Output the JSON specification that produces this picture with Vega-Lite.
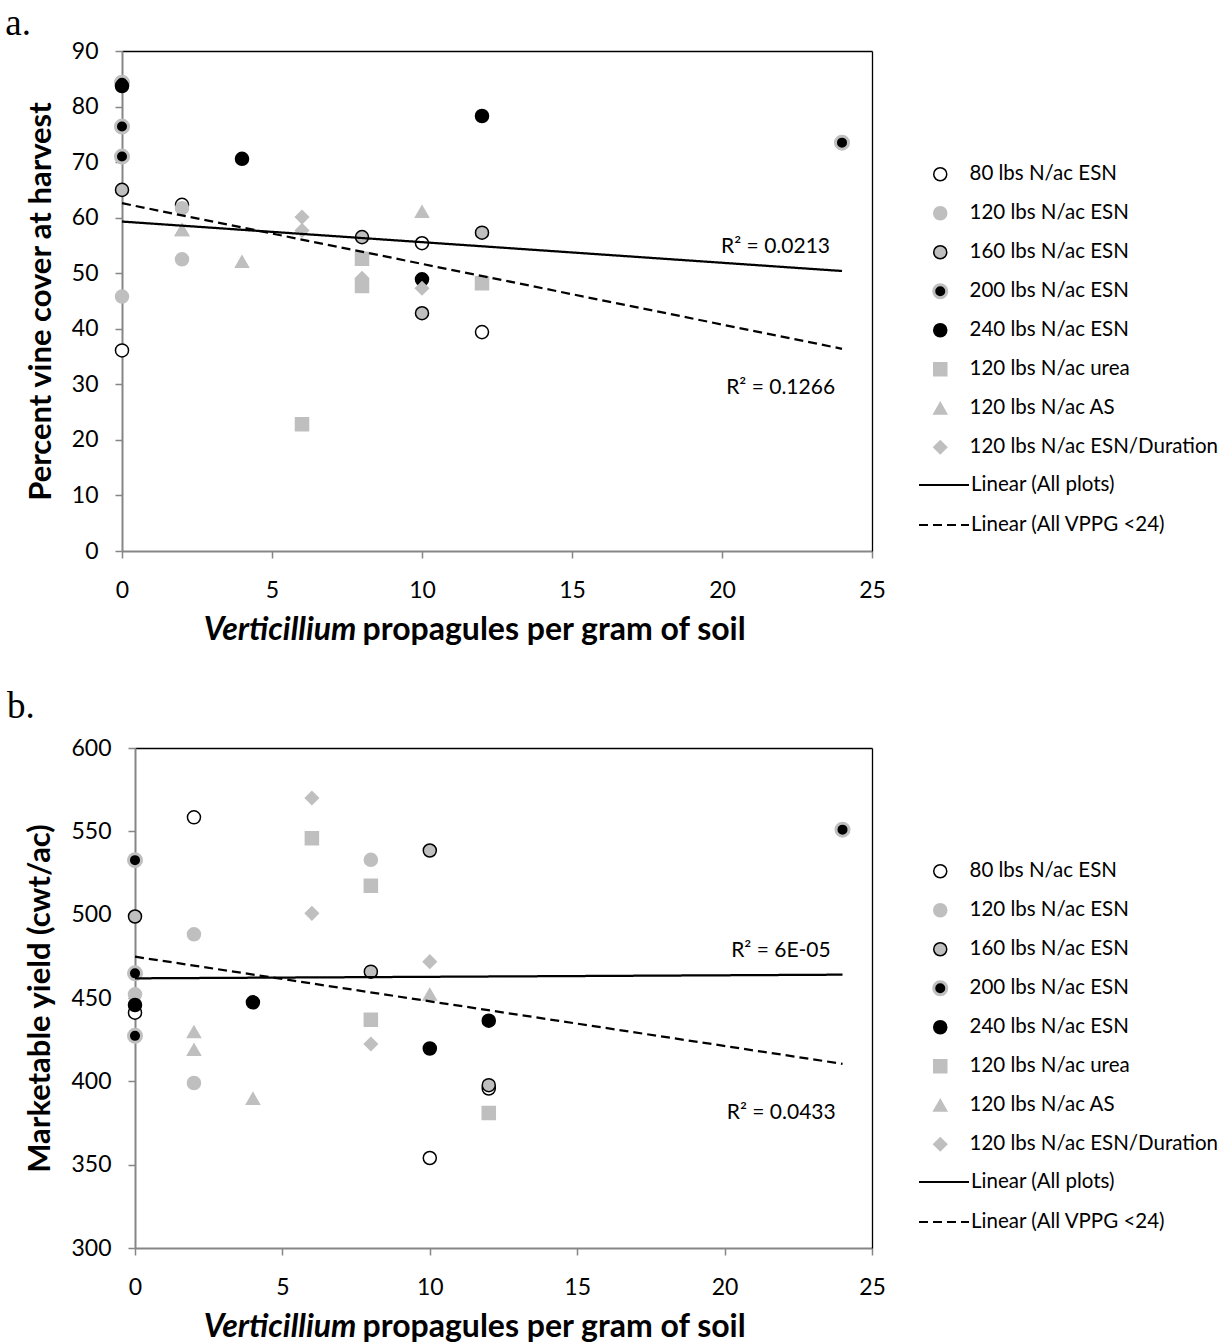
{
  "$schema": "https://vega.github.io/schema/vega-lite/v6.json",
  "padding": 5,
  "config": {
    "font": "Lato",
    "view": {"stroke": null},
    "axis": {
      "grid": false,
      "domainColor": "#868686",
      "domainWidth": 2,
      "tickColor": "#868686",
      "tickWidth": 1.5,
      "tickSize": 7,
      "labelFont": "Lato",
      "labelFontSize": 23,
      "labelColor": "black",
      "labelFlush": false,
      "titleFont": "Lato",
      "titleFontSize": 31,
      "titleFontWeight": "bold",
      "titleColor": "black"
    },
    "legend": {"labelFont": "Lato", "labelFontSize": 20.5, "labelColor": "black", "labelLimit": 500, "symbolOpacity": 1, "title": null, "orient": "none"},
    "title": {"font": "Liberation Serif", "fontSize": 37, "fontWeight": "normal", "anchor": "start", "color": "black"}
  },
  "datasets": {
    "ptsA": [
      {"series": "80 lbs N/ac ESN", "x": 0, "y": 36.1},
      {"series": "80 lbs N/ac ESN", "x": 2, "y": 62.3},
      {"series": "80 lbs N/ac ESN", "x": 10, "y": 55.4},
      {"series": "80 lbs N/ac ESN", "x": 12, "y": 39.4},
      {"series": "120 lbs N/ac ESN", "x": 0, "y": 45.8},
      {"series": "120 lbs N/ac ESN", "x": 2, "y": 61.7},
      {"series": "120 lbs N/ac ESN", "x": 2, "y": 52.5},
      {"series": "160 lbs N/ac ESN", "x": 0, "y": 65.0},
      {"series": "160 lbs N/ac ESN", "x": 8, "y": 56.5},
      {"series": "160 lbs N/ac ESN", "x": 10, "y": 42.8},
      {"series": "160 lbs N/ac ESN", "x": 12, "y": 57.3},
      {"series": "200 lbs N/ac ESN", "x": 0, "y": 84.3},
      {"series": "200 lbs N/ac ESN", "x": 0, "y": 76.4},
      {"series": "200 lbs N/ac ESN", "x": 0, "y": 71.0},
      {"series": "200 lbs N/ac ESN", "x": 24, "y": 73.5},
      {"series": "240 lbs N/ac ESN", "x": 0, "y": 83.7},
      {"series": "240 lbs N/ac ESN", "x": 4, "y": 70.6},
      {"series": "240 lbs N/ac ESN", "x": 10, "y": 48.9},
      {"series": "240 lbs N/ac ESN", "x": 12, "y": 78.3},
      {"series": "120 lbs N/ac urea", "x": 6, "y": 22.8},
      {"series": "120 lbs N/ac urea", "x": 8, "y": 52.6},
      {"series": "120 lbs N/ac urea", "x": 8, "y": 47.7},
      {"series": "120 lbs N/ac urea", "x": 12, "y": 48.2},
      {"series": "120 lbs N/ac AS", "x": 2, "y": 57.8},
      {"series": "120 lbs N/ac AS", "x": 2, "y": 57.8},
      {"series": "120 lbs N/ac AS", "x": 4, "y": 52.1},
      {"series": "120 lbs N/ac AS", "x": 10, "y": 61.1},
      {"series": "120 lbs N/ac ESN/Duration", "x": 6, "y": 60.1},
      {"series": "120 lbs N/ac ESN/Duration", "x": 6, "y": 57.7},
      {"series": "120 lbs N/ac ESN/Duration", "x": 8, "y": 49.1},
      {"series": "120 lbs N/ac ESN/Duration", "x": 10, "y": 47.3}
    ],
    "ptsB": [
      {"series": "80 lbs N/ac ESN", "x": 0, "y": 441.2},
      {"series": "80 lbs N/ac ESN", "x": 2, "y": 558.4},
      {"series": "80 lbs N/ac ESN", "x": 10, "y": 354.0},
      {"series": "80 lbs N/ac ESN", "x": 12, "y": 395.7},
      {"series": "120 lbs N/ac ESN", "x": 0, "y": 452.2},
      {"series": "120 lbs N/ac ESN", "x": 2, "y": 488.2},
      {"series": "120 lbs N/ac ESN", "x": 2, "y": 399.0},
      {"series": "120 lbs N/ac ESN", "x": 8, "y": 532.9},
      {"series": "160 lbs N/ac ESN", "x": 0, "y": 498.9},
      {"series": "160 lbs N/ac ESN", "x": 8, "y": 465.8},
      {"series": "160 lbs N/ac ESN", "x": 10, "y": 538.5},
      {"series": "160 lbs N/ac ESN", "x": 12, "y": 397.7},
      {"series": "200 lbs N/ac ESN", "x": 0, "y": 532.7},
      {"series": "200 lbs N/ac ESN", "x": 0, "y": 464.8},
      {"series": "200 lbs N/ac ESN", "x": 0, "y": 427.3},
      {"series": "200 lbs N/ac ESN", "x": 24, "y": 551.0},
      {"series": "240 lbs N/ac ESN", "x": 0, "y": 445.8},
      {"series": "240 lbs N/ac ESN", "x": 4, "y": 447.4},
      {"series": "240 lbs N/ac ESN", "x": 10, "y": 419.7},
      {"series": "240 lbs N/ac ESN", "x": 12, "y": 436.4},
      {"series": "120 lbs N/ac urea", "x": 6, "y": 545.9},
      {"series": "120 lbs N/ac urea", "x": 8, "y": 517.3},
      {"series": "120 lbs N/ac urea", "x": 8, "y": 437.0},
      {"series": "120 lbs N/ac urea", "x": 12, "y": 381.0},
      {"series": "120 lbs N/ac AS", "x": 2, "y": 429.7},
      {"series": "120 lbs N/ac AS", "x": 2, "y": 419.0},
      {"series": "120 lbs N/ac AS", "x": 4, "y": 389.7},
      {"series": "120 lbs N/ac AS", "x": 10, "y": 452.2},
      {"series": "120 lbs N/ac ESN/Duration", "x": 6, "y": 570.0},
      {"series": "120 lbs N/ac ESN/Duration", "x": 6, "y": 500.8},
      {"series": "120 lbs N/ac ESN/Duration", "x": 8, "y": 422.4},
      {"series": "120 lbs N/ac ESN/Duration", "x": 10, "y": 471.8}
    ],
    "linesA": [
      {"line": "Linear (All plots)", "x": 0, "y": 59.3},
      {"line": "Linear (All plots)", "x": 24, "y": 50.4},
      {"line": "Linear (All VPPG <24)", "x": 0, "y": 62.6},
      {"line": "Linear (All VPPG <24)", "x": 24, "y": 36.4}
    ],
    "linesB": [
      {"line": "Linear (All plots)", "x": 0, "y": 461.8},
      {"line": "Linear (All plots)", "x": 24, "y": 464.0},
      {"line": "Linear (All VPPG <24)", "x": 0, "y": 474.8},
      {"line": "Linear (All VPPG <24)", "x": 24, "y": 410.5}
    ],
    "labA": [
      {"x": 23.6, "y": 54.7, "text": "R² = 0.0213"},
      {"x": 23.77, "y": 29.3, "text": "R² = 0.1266"}
    ],
    "labB": [
      {"x": 23.6, "y": 478, "text": "R² = 6E-05"},
      {"x": 23.77, "y": 381, "text": "R² = 0.0433"}
    ]
  },
  "columns": 1,
  "bounds": "full",
  "spacing": 43,
  "resolve": {
    "scale": {"shape": "independent", "fill": "independent", "stroke": "independent", "strokeDash": "independent"},
    "legend": {"shape": "independent", "fill": "independent", "stroke": "independent", "strokeDash": "independent"}
  },
  "concat": [
    {
      "title": {"text": "a.", "dx": -20, "offset": -3},
      "width": 750,
      "height": 500,
      "resolve": {"axis": {"x": "independent", "y": "independent"}},
      "layer": [
        {
          "data": {"name": "ptsA"},
          "mark": {"type": "point", "opacity": 1, "size": 170},
          "encoding": {
            "x": {"field": "x", "type": "quantitative", "scale": {"domain": [0, 25], "nice": false},
              "axis": {"orient": "bottom", "values": [0, 5, 10, 15, 20, 25], "title": "propagules per gram of soil", "titleFontSize": 32, "titleX": 240, "titleAlign": "left", "titleAnchor": null, "titleY": 88, "titleBaseline": "alphabetic", "labelPadding": 21}},
            "y": {"field": "y", "type": "quantitative", "scale": {"domain": [0, 90], "nice": false},
              "axis": {"orient": "left", "values": [0, 10, 20, 30, 40, 50, 60, 70, 80, 90], "title": "Percent vine cover at harvest", "labelPadding": 17, "titlePadding": 14}},
            "shape": {"field": "series", "type": "nominal",
              "scale": {"domain": ["80 lbs N/ac ESN", "120 lbs N/ac ESN", "160 lbs N/ac ESN", "200 lbs N/ac ESN", "240 lbs N/ac ESN", "120 lbs N/ac urea", "120 lbs N/ac AS", "120 lbs N/ac ESN/Duration"],
                "range": ["circle", "circle", "circle", "circle", "circle", "square", "triangle-up", "diamond"]},
              "legend": {"orient": "none", "legendX": 808, "legendY": 113, "title": null, "symbolSize": 170, "rowPadding": 13, "gridAlign": "all", "labelOffset": 19, "symbolStrokeWidth": 1.5,
                "encode": {"symbols": {"update": {"strokeWidth": {"signal": "datum.value === '200 lbs N/ac ESN' ? 3 : 1.5"}}}}}},
            "fill": {"field": "series", "type": "nominal",
              "scale": {"domain": ["80 lbs N/ac ESN", "120 lbs N/ac ESN", "160 lbs N/ac ESN", "200 lbs N/ac ESN", "240 lbs N/ac ESN", "120 lbs N/ac urea", "120 lbs N/ac AS", "120 lbs N/ac ESN/Duration"],
                "range": ["white", "#bfbfbf", "#bfbfbf", "black", "black", "#bfbfbf", "#bfbfbf", "#bfbfbf"]},
              "legend": {"orient": "none", "legendX": 808, "legendY": 113, "title": null, "symbolSize": 170, "rowPadding": 13, "gridAlign": "all", "labelOffset": 19, "symbolStrokeWidth": 1.5,
                "encode": {"symbols": {"update": {"strokeWidth": {"signal": "datum.value === '200 lbs N/ac ESN' ? 3 : 1.5"}}}}}},
            "stroke": {"field": "series", "type": "nominal",
              "scale": {"domain": ["80 lbs N/ac ESN", "120 lbs N/ac ESN", "160 lbs N/ac ESN", "200 lbs N/ac ESN", "240 lbs N/ac ESN", "120 lbs N/ac urea", "120 lbs N/ac AS", "120 lbs N/ac ESN/Duration"],
                "range": ["black", "#bfbfbf", "black", "#bfbfbf", "black", "#bfbfbf", "#bfbfbf", "#bfbfbf"]},
              "legend": {"orient": "none", "legendX": 808, "legendY": 113, "title": null, "symbolSize": 170, "rowPadding": 13, "gridAlign": "all", "labelOffset": 19, "symbolStrokeWidth": 1.5,
                "encode": {"symbols": {"update": {"strokeWidth": {"signal": "datum.value === '200 lbs N/ac ESN' ? 3 : 1.5"}}}}}},
            "strokeWidth": {"condition": {"test": "datum.series === '200 lbs N/ac ESN'", "value": 3}, "value": 1.5}
          }
        },
        {
          "data": {"name": "linesA"},
          "mark": {"type": "line", "color": "black", "strokeWidth": 2.25},
          "encoding": {
            "x": {"field": "x", "type": "quantitative",
              "axis": {"orient": "bottom", "title": "Verticillium", "titleFontStyle": "italic", "titleFontSize": 32, "labels": false, "ticks": false, "domain": false, "titleX": 234, "titleAlign": "right", "titleAnchor": null, "titleY": 88, "titleBaseline": "alphabetic"}},
            "y": {"field": "y", "type": "quantitative",
              "axis": {"orient": "right", "title": null, "labels": false, "ticks": false, "domainColor": "black", "domainWidth": 1.3}},
            "strokeDash": {"field": "line", "type": "nominal",
              "scale": {"domain": ["Linear (All plots)", "Linear (All VPPG <24)"], "range": [[1, 0], [9, 5]]},
              "legend": {"orient": "none", "legendX": 796, "legendY": 408, "title": null, "symbolType": "stroke", "symbolSize": 2500, "symbolStrokeWidth": 2, "symbolStrokeColor": "black", "rowPadding": 3, "labelOffset": 1}}
          }
        },
        {
          "data": {"name": "labA"},
          "mark": {"type": "text", "align": "right", "baseline": "middle", "fontSize": 21, "font": "Lato", "color": "black"},
          "encoding": {
            "x": {"field": "x", "type": "quantitative",
              "axis": {"orient": "top", "title": null, "labels": false, "ticks": false, "domainColor": "black", "domainWidth": 1.3}},
            "y": {"field": "y", "type": "quantitative", "axis": null},
            "text": {"field": "text", "type": "nominal"}
          }
        }
      ]
    },
    {
      "title": {"text": "b.", "dx": -18, "offset": 11},
      "width": 750,
      "height": 500,
      "resolve": {"axis": {"x": "independent", "y": "independent"}},
      "layer": [
        {
          "data": {"name": "ptsB"},
          "mark": {"type": "point", "opacity": 1, "size": 170},
          "encoding": {
            "x": {"field": "x", "type": "quantitative", "scale": {"domain": [0, 25], "nice": false, "range": [13, 750]},
              "axis": {"orient": "bottom", "values": [0, 5, 10, 15, 20, 25], "title": "propagules per gram of soil", "titleFontSize": 32, "titleX": 240, "titleAlign": "left", "titleAnchor": null, "titleY": 88, "titleBaseline": "alphabetic", "labelPadding": 21}},
            "y": {"field": "y", "type": "quantitative", "scale": {"domain": [300, 600], "nice": false},
              "axis": {"orient": "left", "offset": -13, "values": [300, 350, 400, 450, 500, 550, 600], "title": "Marketable yield (cwt/ac)", "labelPadding": 17, "titlePadding": 14}},
            "shape": {"field": "series", "type": "nominal",
              "scale": {"domain": ["80 lbs N/ac ESN", "120 lbs N/ac ESN", "160 lbs N/ac ESN", "200 lbs N/ac ESN", "240 lbs N/ac ESN", "120 lbs N/ac urea", "120 lbs N/ac AS", "120 lbs N/ac ESN/Duration"],
                "range": ["circle", "circle", "circle", "circle", "circle", "square", "triangle-up", "diamond"]},
              "legend": {"orient": "none", "legendX": 808, "legendY": 113, "title": null, "symbolSize": 170, "rowPadding": 13, "gridAlign": "all", "labelOffset": 19, "symbolStrokeWidth": 1.5,
                "encode": {"symbols": {"update": {"strokeWidth": {"signal": "datum.value === '200 lbs N/ac ESN' ? 3 : 1.5"}}}}}},
            "fill": {"field": "series", "type": "nominal",
              "scale": {"domain": ["80 lbs N/ac ESN", "120 lbs N/ac ESN", "160 lbs N/ac ESN", "200 lbs N/ac ESN", "240 lbs N/ac ESN", "120 lbs N/ac urea", "120 lbs N/ac AS", "120 lbs N/ac ESN/Duration"],
                "range": ["white", "#bfbfbf", "#bfbfbf", "black", "black", "#bfbfbf", "#bfbfbf", "#bfbfbf"]},
              "legend": {"orient": "none", "legendX": 808, "legendY": 113, "title": null, "symbolSize": 170, "rowPadding": 13, "gridAlign": "all", "labelOffset": 19, "symbolStrokeWidth": 1.5,
                "encode": {"symbols": {"update": {"strokeWidth": {"signal": "datum.value === '200 lbs N/ac ESN' ? 3 : 1.5"}}}}}},
            "stroke": {"field": "series", "type": "nominal",
              "scale": {"domain": ["80 lbs N/ac ESN", "120 lbs N/ac ESN", "160 lbs N/ac ESN", "200 lbs N/ac ESN", "240 lbs N/ac ESN", "120 lbs N/ac urea", "120 lbs N/ac AS", "120 lbs N/ac ESN/Duration"],
                "range": ["black", "#bfbfbf", "black", "#bfbfbf", "black", "#bfbfbf", "#bfbfbf", "#bfbfbf"]},
              "legend": {"orient": "none", "legendX": 808, "legendY": 113, "title": null, "symbolSize": 170, "rowPadding": 13, "gridAlign": "all", "labelOffset": 19, "symbolStrokeWidth": 1.5,
                "encode": {"symbols": {"update": {"strokeWidth": {"signal": "datum.value === '200 lbs N/ac ESN' ? 3 : 1.5"}}}}}},
            "strokeWidth": {"condition": {"test": "datum.series === '200 lbs N/ac ESN'", "value": 3}, "value": 1.5}
          }
        },
        {
          "data": {"name": "linesB"},
          "mark": {"type": "line", "color": "black", "strokeWidth": 2.25},
          "encoding": {
            "x": {"field": "x", "type": "quantitative",
              "axis": {"orient": "bottom", "title": "Verticillium", "titleFontStyle": "italic", "titleFontSize": 32, "labels": false, "ticks": false, "domain": false, "titleX": 234, "titleAlign": "right", "titleAnchor": null, "titleY": 88, "titleBaseline": "alphabetic"}},
            "y": {"field": "y", "type": "quantitative",
              "axis": {"orient": "right", "title": null, "labels": false, "ticks": false, "domainColor": "black", "domainWidth": 1.3}},
            "strokeDash": {"field": "line", "type": "nominal",
              "scale": {"domain": ["Linear (All plots)", "Linear (All VPPG <24)"], "range": [[1, 0], [9, 5]]},
              "legend": {"orient": "none", "legendX": 796, "legendY": 408, "title": null, "symbolType": "stroke", "symbolSize": 2500, "symbolStrokeWidth": 2, "symbolStrokeColor": "black", "rowPadding": 3, "labelOffset": 1}}
          }
        },
        {
          "data": {"name": "labB"},
          "mark": {"type": "text", "align": "right", "baseline": "middle", "fontSize": 21, "font": "Lato", "color": "black"},
          "encoding": {
            "x": {"field": "x", "type": "quantitative",
              "axis": {"orient": "top", "title": null, "labels": false, "ticks": false, "domainColor": "black", "domainWidth": 1.3}},
            "y": {"field": "y", "type": "quantitative", "axis": null},
            "text": {"field": "text", "type": "nominal"}
          }
        }
      ]
    }
  ]
}
